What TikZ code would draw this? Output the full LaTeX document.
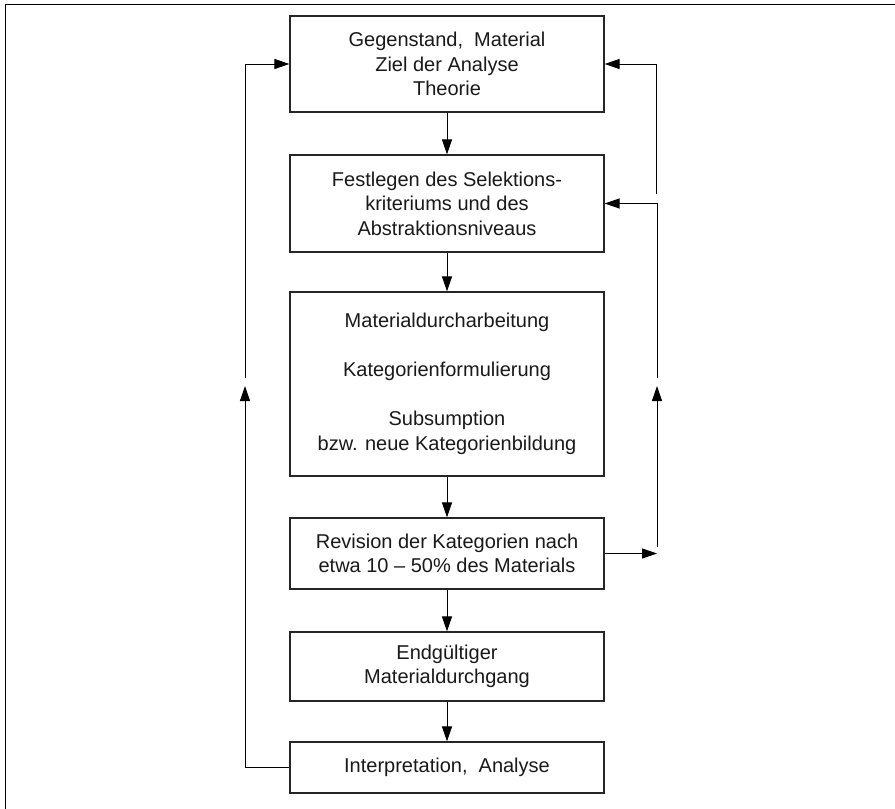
\documentclass[tikz,border=0pt]{standalone}
\usepackage{fontspec}
\setmainfont{Liberation Sans}
\usetikzlibrary{arrows.meta}
\begin{document}
\begin{tikzpicture}[x=1pt,y=-1pt,
  box/.style={draw=black!85,line width=1.2pt,minimum width=314pt,align=center,inner sep=0pt,
    font=\fontsize{20}{24.5}\selectfont,text=black!90},
  arr/.style={line width=1pt,-{Triangle[length=15pt,width=10pt]}},
  ln/.style={line width=1pt}]
\useasboundingbox (0,0) rectangle (895,809);
\draw[ln] (5,809) -- (5,4) -- (895,4);
\node[box,minimum height=96pt] (b1) at (447,64) {Gegenstand,\ \ Material\\Ziel der Analyse\\Theorie};
\node[box,minimum height=97pt] (b2) at (447,203.5) {Festlegen des Selektions-\\kriteriums und des\\Abstraktionsniveaus};
\node[box,minimum height=184pt] (b3) at (447,384) {Materialdurcharbeitung\\[24.5pt]Kategorienformulierung\\[24.5pt]Subsumption\\bzw. neue Kategorienbildung};
\node[box,minimum height=71pt] (b4) at (447,553.5) {Revision der Kategorien nach\\etwa 10 -- 50\% des Materials};
\node[box,minimum height=69pt] (b5) at (447,666.5) {Endgültiger\\Materialdurchgang};
\node[box,minimum height=51pt] (b6) at (447,767.5) {Interpretation,\ \ Analyse};
\draw[arr] (b1) -- (b2);
\draw[arr] (b2) -- (b3);
\draw[arr] (b3) -- (b4);
\draw[arr] (b4) -- (b5);
\draw[arr] (b5) -- (b6);
% left feedback
\coordinate (lb) at (245,767.5);
\coordinate (la) at (245,386);
\coordinate (lc) at (245,378);
\coordinate (ld) at (245,64);
\draw[arr] (b6.west) -- (lb) -- (la);
\draw[arr] (lc) -- (ld) -- (b1.west);
% right feedback
\coordinate (ra) at (657,553.5);
\coordinate (rb) at (657,547);
\coordinate (rc) at (657,386);
\coordinate (rd) at (657,378);
\coordinate (re) at (657,203.5);
\coordinate (rf) at (656,194);
\coordinate (rg) at (656,64);
\draw[arr] (b4.east) -- (ra);
\draw[arr] (rb) -- (rc);
\draw[arr] (rd) -- (re) -- (b2.east);
\draw[arr] (rf) -- (rg) -- (b1.east);
\end{tikzpicture}
\end{document}
